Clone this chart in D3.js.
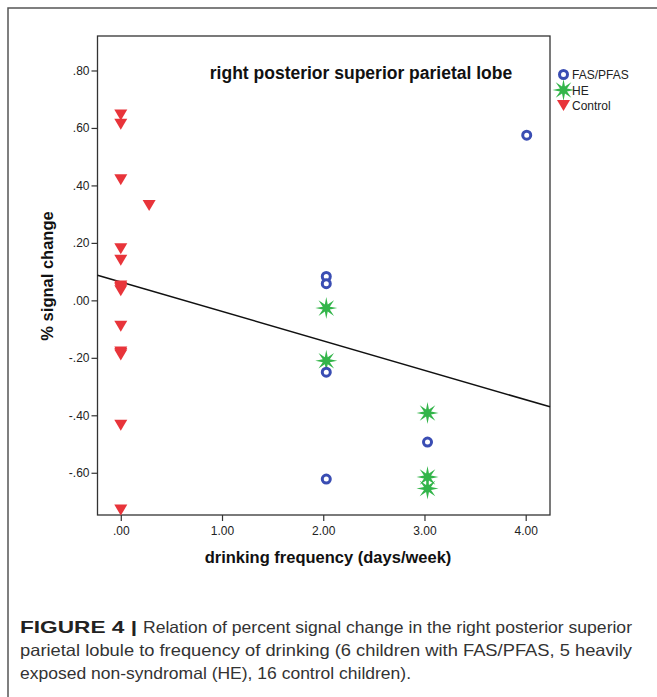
<!DOCTYPE html>
<html>
<head>
<meta charset="utf-8">
<script src="https://cdn.jsdelivr.net/npm/d3@7"></script>
<style>
  html, body { margin: 0; padding: 0; background: #fff; }
  svg { display: block; }
</style>
</head>
<body>
<svg id="chart" width="657" height="697"></svg>
<script>
// ---- data ----
const fasX = [2.03, 2.03, 2.03, 2.03, 3.03, 4.01];
const fasY = [0.083, 0.058, -0.25, -0.622, -0.493, 0.575];

const heX = [2.03, 2.03, 3.03, 3.03, 3.03];
const heY = [-0.027, -0.21, -0.392, -0.615, -0.655];

const controlX = [0, 0, 0, 0.28, 0, 0, 0, 0, 0, 0, 0, 0, 0, 0, 0, 0];
const controlY = [0.645, 0.613, 0.42, 0.33, 0.18, 0.14, 0.05, 0.045, 0.04, 0.033, -0.09, -0.18, -0.185, -0.19, -0.435, -0.73];

const fitLine = [0.064, -0.1025]; // intercept, slope

const xTicks = [0, 1, 2, 3, 4];
const xTickLabels = [".00", "1.00", "2.00", "3.00", "4.00"];
const yTicks = [0.8, 0.6, 0.4, 0.2, 0, -0.2, -0.4, -0.6];
const yTickLabels = [".80", ".60", ".40", ".20", ".00", "-.20", "-.40", "-.60"];

const legendLabels = ["FAS/PFAS", "HE", "Control"];
const titleText = "right posterior superior parietal lobe";
const xTitle = "drinking frequency (days/week)";
const yTitle = "% signal change";
const captionBold = "FIGURE 4 |";
const captionLines = [
  "Relation of percent signal change in the right posterior superior",
  "parietal lobule to frequency of drinking (6 children with FAS/PFAS, 5 heavily",
  "exposed non-syndromal (HE), 16 control children)."
];

// ---- layout ----
const svg = d3.select("#chart");
const FONT = "Liberation Sans, Arial, sans-serif";
const plot = { left: 97.5, top: 36, right: 550, bottom: 515 };
const colors = { fas: "#3a4db3", he: "#33b54a", control: "#e8343a" };

const x = d3.scaleLinear().domain([-0.23, 4.24]).range([plot.left, plot.right]);
const y = d3.scaleLinear().domain([-0.747, 0.92]).range([plot.bottom, plot.top]);

// outer frame
svg.append("rect")
  .attr("x", 8).attr("y", 8).attr("width", 720).attr("height", 720)
  .attr("fill", "none").attr("stroke", "#555").attr("stroke-width", 1.5);

// plot box
svg.append("rect")
  .attr("x", plot.left).attr("y", plot.top)
  .attr("width", plot.right - plot.left).attr("height", plot.bottom - plot.top)
  .attr("fill", "#fff").attr("stroke", "#333").attr("stroke-width", 1.3);

// axes
const xAxis = d3.axisBottom(x).tickValues(xTicks)
  .tickFormat((d, i) => xTickLabels[i]).tickSize(6).tickPadding(5);
const gx = svg.append("g").attr("transform", `translate(0,${plot.bottom})`).call(xAxis);
gx.select(".domain").remove();
gx.selectAll(".tick line").attr("stroke", "#333").attr("stroke-width", 1.2);
gx.selectAll(".tick text").attr("font-family", FONT)
  .attr("font-size", 12).attr("fill", "#222");

const yAxis = d3.axisLeft(y).tickValues(yTicks)
  .tickFormat((d, i) => yTickLabels[i]).tickSize(6).tickPadding(2);
const gy = svg.append("g").attr("transform", `translate(${plot.left},0)`).call(yAxis);
gy.select(".domain").remove();
gy.selectAll(".tick line").attr("stroke", "#333").attr("stroke-width", 1.2);
gy.selectAll(".tick text").attr("font-family", FONT)
  .attr("font-size", 12).attr("fill", "#222");

// regression line
const fx0 = x.domain()[0], fx1 = x.domain()[1];
svg.append("line")
  .attr("x1", x(fx0)).attr("y1", y(fitLine[0] + fitLine[1] * fx0))
  .attr("x2", x(fx1)).attr("y2", y(fitLine[0] + fitLine[1] * fx1))
  .attr("stroke", "#111").attr("stroke-width", 1.5);

// marker shapes
function starPath(rOut, rIn, n) {
  const pts = [];
  for (let i = 0; i < 2 * n; i++) {
    const a = Math.PI * i / n - Math.PI / 2;
    const r = i % 2 === 0 ? rOut : rIn;
    pts.push([r * Math.cos(a), r * Math.sin(a)]);
  }
  return d3.line()(pts) + "Z";
}
const starD = starPath(11, 3.8, 8);
const triD = "M-6.5,-5.5L6.5,-5.5L0,5.5Z";

function drawCircle(g, cx, cy) {
  g.append("circle").attr("cx", cx).attr("cy", cy).attr("r", 4)
    .attr("fill", "#fff").attr("stroke", colors.fas).attr("stroke-width", 3);
}
function drawStar(g, cx, cy) {
  g.append("path").attr("d", starD).attr("transform", `translate(${cx},${cy})`)
    .attr("fill", colors.he);
}
function drawTri(g, cx, cy) {
  g.append("path").attr("d", triD).attr("transform", `translate(${cx},${cy})`)
    .attr("fill", colors.control);
}

const marks = svg.append("g");
controlX.forEach((d, i) => drawTri(marks, x(d), y(controlY[i])));
heX.forEach((d, i) => drawStar(marks, x(d), y(heY[i])));
fasX.forEach((d, i) => drawCircle(marks, x(d), y(fasY[i])));

// title
svg.append("text").attr("x", 361).attr("y", 79).attr("text-anchor", "middle")
  .attr("font-family", FONT).attr("font-weight", "bold")
  .attr("font-size", 17.5).attr("fill", "#111").text(titleText);

// axis titles
svg.append("text").attr("x", 328).attr("y", 563).attr("text-anchor", "middle")
  .attr("font-family", FONT).attr("font-weight", "bold")
  .attr("font-size", 16.5).attr("fill", "#111").text(xTitle);

svg.append("text").attr("transform", "translate(53,276) rotate(-90)")
  .attr("text-anchor", "middle")
  .attr("font-family", FONT).attr("font-weight", "bold")
  .attr("font-size", 16.5).attr("fill", "#111").text(yTitle);

// legend
const lg = svg.append("g");
const legX = 563.5, legY0 = 74.5, legStep = 15.5;
drawCircle(lg, legX, legY0);
drawStar(lg, legX, legY0 + legStep);
drawTri(lg, legX, legY0 + 2 * legStep);
legendLabels.forEach((t, i) => {
  lg.append("text").attr("x", 572).attr("y", legY0 + i * legStep + 4.5)
    .attr("font-family", FONT)
    .attr("font-size", 12).attr("fill", "#222").text(t);
});

// caption
const cap = svg.append("g").attr("font-family", FONT)
  .attr("font-size", 16.5).attr("fill", "#333");
cap.append("text").attr("x", 20).attr("y", 633).attr("font-weight", "bold").attr("fill", "#222")
  .attr("textLength", 117).attr("lengthAdjust", "spacingAndGlyphs").text(captionBold);
cap.append("text").attr("x", 143).attr("y", 633)
  .attr("textLength", 489).attr("lengthAdjust", "spacingAndGlyphs").text(captionLines[0]);
cap.append("text").attr("x", 20).attr("y", 656)
  .attr("textLength", 612).attr("lengthAdjust", "spacingAndGlyphs").text(captionLines[1]);
cap.append("text").attr("x", 20).attr("y", 679)
  .attr("textLength", 391).attr("lengthAdjust", "spacingAndGlyphs").text(captionLines[2]);
</script>
</body>
</html>
